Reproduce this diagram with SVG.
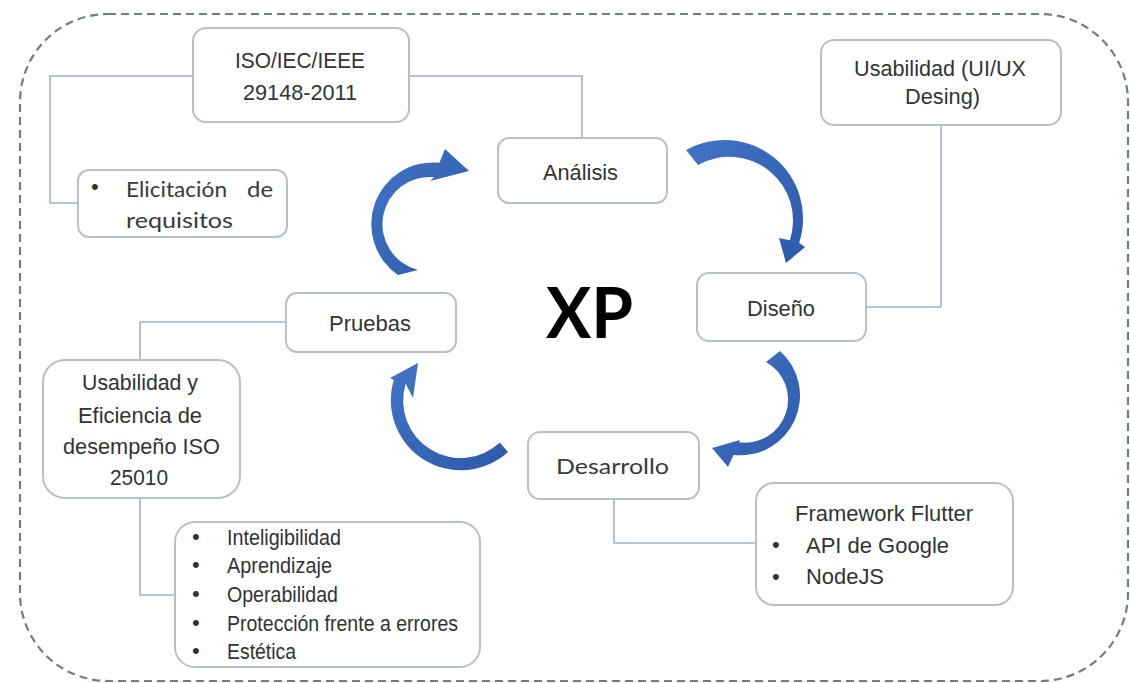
<svg xmlns="http://www.w3.org/2000/svg" width="1130" height="683" viewBox="0 0 1130 683">
  <style>
    .frame { fill: none; stroke: #6f7c90; stroke-width: 2.2; stroke-dasharray: 8 5; }
    .box { fill: #ffffff; stroke: #b9c0cd; stroke-width: 2; }
    .link { fill: none; stroke: #a3b1cc; stroke-width: 1.6; }
    .cycle { fill: url(#blueShade); }
    .lbl { font-family: "Liberation Sans", Arial, sans-serif; font-size: 22px; fill: #333333; }
    .cal { font-family: Lato, "Open Sans", "Liberation Sans", sans-serif; font-size: 22px; fill: #3a3a3a; }
    .xp { font-family: Lato, "Open Sans", "Liberation Sans", sans-serif; font-size: 71px; font-weight: bold; fill: #000000; }
  </style>
  <defs>
    <linearGradient id="blueShade" x1="0" y1="0" x2="1" y2="1">
      <stop offset="0" stop-color="#4374c6"/>
      <stop offset="1" stop-color="#2d59a9"/>
    </linearGradient>
  </defs>

  <rect width="1130" height="683" fill="#ffffff"/>

  <!-- dashed outer frame -->
  <rect class="frame" x="20" y="14" width="1108" height="667" rx="88" ry="88"/>

  <!-- connectors between boxes -->
  <g id="connectors">
    <path class="link" d="M193,76 H50 V203 H78"/>
    <path class="link" d="M409,76 H582 V138"/>
    <path class="link" d="M941,125 V307 H866"/>
    <path class="link" d="M286,322 H140 V360"/>
    <path class="link" d="M140,498 V595 H175"/>
    <path class="link" d="M614,499 V543 H756"/>
  </g>

  <!-- curved cycle arrows: outer arc, head, inner arc back to the tail -->
  <g id="cycle-arrows">
    <path class="cycle" d="M398,275 A61.7,61.7 0 0 1 439.4,162.8 L445,149 L469,171 L430,181 L434.3,177.1 A47.3,47.3 0 0 0 418,270 Z"/>
    <path class="cycle" d="M686,150 A78.6,78.6 0 0 1 799.2,242.9 L805,247 L786,263 L779,238 L789.9,240.2 A63.7,63.7 0 0 0 698,165 Z"/>
    <path class="cycle" d="M780,351 A59.7,59.7 0 0 1 733.5,454.9 L728,467 L712,448 L740,440 L739,442.3 A43.1,43.1 0 0 0 766,362 Z"/>
    <path class="cycle" d="M508,452 A70,70 0 0 1 393.8,380.1 L390,378 L418,363 L413,398 L405.7,383.7 A57.5,57.5 0 0 0 499.9,442.6 Z"/>
  </g>

  <g id="iso29148">
    <rect class="box" x="193" y="28" width="216" height="94" rx="13"/>
    <text class="lbl" x="235" y="68" textLength="130" lengthAdjust="spacingAndGlyphs">ISO/IEC/IEEE</text>
    <text class="lbl" x="243" y="100" textLength="114" lengthAdjust="spacingAndGlyphs">29148-2011</text>
  </g>

  <g id="elicitacion">
    <rect class="box" x="78" y="170" width="209" height="67" rx="11"/>
    <text class="lbl" x="91" y="194">•</text>
    <text class="cal" x="126" y="197" textLength="101" lengthAdjust="spacingAndGlyphs">Elicitación</text>
    <text class="cal" x="247" y="197" textLength="26" lengthAdjust="spacingAndGlyphs">de</text>
    <text class="cal" x="126" y="228" textLength="107" lengthAdjust="spacingAndGlyphs">requisitos</text>
  </g>

  <g id="analisis">
    <rect class="box" x="498" y="138" width="169" height="65" rx="11"/>
    <text class="lbl" x="543" y="180" textLength="75" lengthAdjust="spacingAndGlyphs">Análisis</text>
  </g>

  <g id="usabilidad-uiux">
    <rect class="box" x="821" y="40" width="240" height="85" rx="13"/>
    <text class="lbl" x="854" y="76" textLength="172" lengthAdjust="spacingAndGlyphs">Usabilidad (UI/UX</text>
    <text class="lbl" x="905" y="104" textLength="75" lengthAdjust="spacingAndGlyphs">Desing)</text>
  </g>

  <g id="xp">
    <text class="xp" x="546" y="338" textLength="87" lengthAdjust="spacingAndGlyphs">XP</text>
  </g>

  <g id="diseno">
    <rect class="box" x="697" y="273" width="169" height="68" rx="12"/>
    <text class="lbl" x="747" y="316" textLength="68" lengthAdjust="spacingAndGlyphs">Diseño</text>
  </g>

  <g id="pruebas">
    <rect class="box" x="286" y="293" width="170" height="59" rx="11"/>
    <text class="lbl" x="329" y="331" textLength="82" lengthAdjust="spacingAndGlyphs">Pruebas</text>
  </g>

  <g id="usabilidad-eficiencia">
    <rect class="box" x="43" y="360" width="197" height="138" rx="22"/>
    <text class="lbl" x="82" y="390" textLength="116" lengthAdjust="spacingAndGlyphs">Usabilidad y</text>
    <text class="lbl" x="78" y="423" textLength="124" lengthAdjust="spacingAndGlyphs">Eficiencia de</text>
    <text class="lbl" x="63" y="454" textLength="157" lengthAdjust="spacingAndGlyphs">desempeño ISO</text>
    <text class="lbl" x="110" y="485" textLength="58" lengthAdjust="spacingAndGlyphs">25010</text>
  </g>

  <g id="desarrollo">
    <rect class="box" x="528" y="432" width="171" height="67" rx="12"/>
    <text class="cal" x="556" y="474" textLength="113" lengthAdjust="spacingAndGlyphs">Desarrollo</text>
  </g>

  <g id="criterios">
    <rect class="box" x="175" y="522" width="305" height="145" rx="20"/>
    <text class="lbl" x="192" y="544">•</text>
    <text class="lbl" x="227" y="545" textLength="114" lengthAdjust="spacingAndGlyphs">Inteligibilidad</text>
    <text class="lbl" x="192" y="572">•</text>
    <text class="lbl" x="227" y="573" textLength="105" lengthAdjust="spacingAndGlyphs">Aprendizaje</text>
    <text class="lbl" x="192" y="601">•</text>
    <text class="lbl" x="227" y="602" textLength="111" lengthAdjust="spacingAndGlyphs">Operabilidad</text>
    <text class="lbl" x="192" y="630">•</text>
    <text class="lbl" x="227" y="631" textLength="231" lengthAdjust="spacingAndGlyphs">Protección frente a errores</text>
    <text class="lbl" x="192" y="658">•</text>
    <text class="lbl" x="227" y="659" textLength="69" lengthAdjust="spacingAndGlyphs">Estética</text>
  </g>

  <g id="framework">
    <rect class="box" x="756" y="483" width="257" height="122" rx="18"/>
    <text class="lbl" x="795" y="521" textLength="178" lengthAdjust="spacingAndGlyphs">Framework Flutter</text>
    <text class="lbl" x="772" y="552">•</text>
    <text class="lbl" x="806" y="553" textLength="143" lengthAdjust="spacingAndGlyphs">API de Google</text>
    <text class="lbl" x="772" y="584">•</text>
    <text class="lbl" x="806" y="584" textLength="78" lengthAdjust="spacingAndGlyphs">NodeJS</text>
  </g>
</svg>
